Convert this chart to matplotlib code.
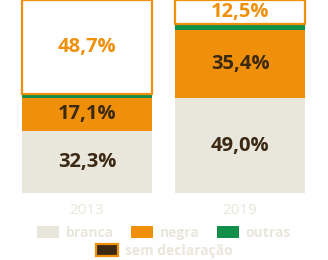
import numpy as np
import matplotlib.pyplot as plt
from matplotlib.patches import Patch

# Dados (percentuais)
anos = ['2013', '2019']
branca = [32.3, 49.0]
negra = [17.1, 35.4]
outras = [1.9, 3.1]
sem_declaracao = [48.7, 12.5]

cor_branca = '#e9e6db'
cor_negra = '#f0900a'
cor_outras = '#0f8f48'
cor_sem = '#3b2913'
cor_texto = '#3b2913'

plt.rcParams['font.family'] = ['Open Sans', 'DejaVu Sans']

fig = plt.figure(figsize=(3.28, 2.6), dpi=100)
ax = fig.add_axes([0, 1 - 193 / 260, 1, 193 / 260])

x = np.arange(len(anos))
w = 0.85
b1 = np.array(branca)
b2 = b1 + np.array(negra)
b3 = b2 + np.array(outras)

ax.bar(x, branca, w, color=cor_branca, linewidth=0)
ax.bar(x, negra, w, bottom=b1, color=cor_negra, linewidth=0)
ax.bar(x, outras, w, bottom=b2, color=cor_outras, linewidth=0)
topo = ax.bar(x, sem_declaracao, w, bottom=b3, facecolor='white',
              edgecolor=cor_negra, linewidth=1.6)
for r in topo:
    r.set_clip_on(False)

# Rótulos dentro das barras
for i in range(len(anos)):
    ax.text(x[i], branca[i] / 2, f'{branca[i]:.1f}%'.replace('.', ','),
            ha='center', va='center', fontsize=14.5, fontweight='bold', color=cor_texto)
    ax.text(x[i], b1[i] + negra[i] / 2, f'{negra[i]:.1f}%'.replace('.', ','),
            ha='center', va='center', fontsize=14.5, fontweight='bold', color=cor_texto)
    ax.text(x[i], b3[i] + sem_declaracao[i] / 2, f'{sem_declaracao[i]:.1f}%'.replace('.', ','),
            ha='center', va='center', fontsize=14.5, fontweight='bold', color=cor_negra)

ax.set_xlim(-87 / 153, (328 - 87) / 153)
ax.set_ylim(0, 100)
ax.set_xticks(x)
ax.set_xticklabels(anos, fontsize=11, color=cor_branca)
ax.tick_params(axis='x', length=0, pad=7)
ax.set_yticks([])
for s in ax.spines.values():
    s.set_visible(False)

# Legenda em duas linhas
h1 = [Patch(facecolor=cor_branca, label='branca'),
      Patch(facecolor=cor_negra, label='negra'),
      Patch(facecolor=cor_outras, label='outras')]
h2 = [Patch(facecolor=cor_sem, edgecolor=cor_negra, linewidth=1.6, label='sem declaração')]
opts = dict(frameon=False, prop={'size': 10, 'weight': 'bold'}, labelcolor=cor_branca,
            handlelength=1.6, handleheight=1.0, handletextpad=0.5, columnspacing=1.2,
            borderpad=0, borderaxespad=0)
fig.legend(handles=h1, ncol=3, loc='center', bbox_to_anchor=(0.5, 1 - 233 / 260), **opts)
fig.legend(handles=h2, ncol=1, loc='center', bbox_to_anchor=(0.5, 1 - 251 / 260), **opts)

fig.savefig('out.png', dpi=100, facecolor='white')
